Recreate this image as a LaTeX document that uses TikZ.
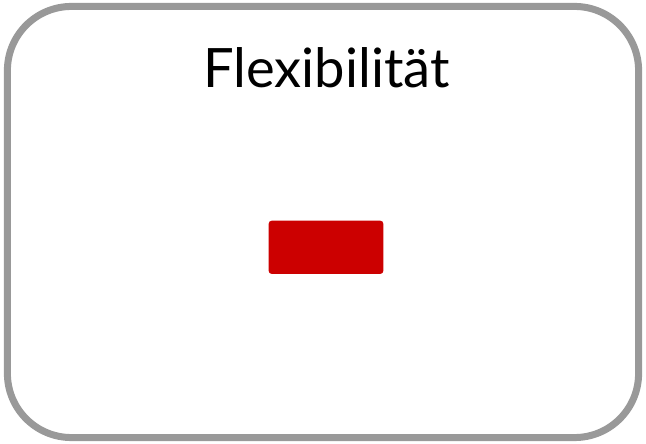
\documentclass[tikz,border=0pt]{standalone}
\usepackage{fontspec}
\setmainfont{Lato}
\definecolor{framegray}{HTML}{999999}
\definecolor{boxred}{HTML}{CC0000}
\begin{document}
\begin{tikzpicture}[x=0.025cm, y=-0.025cm]
        \useasboundingbox (0,0) rectangle (646,444);
        % Rahmen
        \node[draw=framegray, line width=0.175cm, rectangle, rounded corners=1.6cm, minimum width=15.775cm, minimum height=10.775cm, inner sep=0pt] (frame) at (323, 222) {};
        \node[anchor=base, font=\fontsize{38.6}{46}\selectfont, inner sep=0pt] (title) at (326.5, 87.3) {Flexibilität};
        
        % Balken
        \node[rectangle, fill=boxred, rounded corners=0.075cm, minimum width=2.865cm, minimum height=1.33cm, inner sep=0pt] (bar) at (326, 247.3) {};
    \end{tikzpicture}
\end{document}
